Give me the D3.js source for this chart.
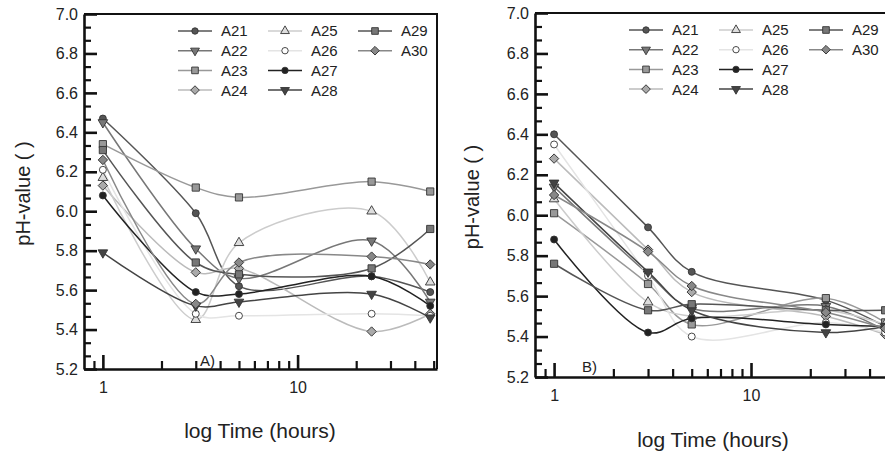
<!DOCTYPE html>
<html>
<head>
<meta charset="utf-8">
<script src="https://cdn.jsdelivr.net/npm/d3@7"></script>
<style>
  body { margin: 0; background: #fff; }
  svg { display: block; font-family: "Liberation Sans", Arial, sans-serif; }
</style>
</head>
<body>
<svg id="chart" width="885" height="454"></svg>
<script>
/* globals d3 */

// sampling times (hours)
var times = [1, 3, 5, 24, 48];
var seriesNames = ["A21", "A22", "A23", "A24", "A25", "A26", "A27", "A28", "A29", "A30"];

// pH, one row per series
var phPanelA = [
    [6.47, 5.99, 5.62, 5.67, 5.59],
    [6.45, 5.81, 5.66, 5.85, 5.54],
    [6.34, 6.12, 6.07, 6.15, 6.10],
    [6.13, 5.69, 5.71, 5.39, 5.48],
    [6.17, 5.45, 5.84, 6.00, 5.64],
    [6.21, 5.48, 5.47, 5.48, 5.47],
    [6.08, 5.59, 5.58, 5.67, 5.52],
    [5.79, 5.52, 5.54, 5.58, 5.46],
    [6.31, 5.74, 5.68, 5.71, 5.91],
    [6.26, 5.53, 5.74, 5.77, 5.73]
];

// pH
var phPanelB = [
    [6.40, 5.94, 5.72, 5.58, 5.45],
    [6.14, 5.71, 5.54, 5.55, 5.43],
    [6.01, 5.66, 5.46, 5.59, 5.47],
    [6.28, 5.83, 5.62, 5.50, 5.41],
    [6.08, 5.57, 5.50, 5.53, 5.46],
    [6.35, 5.70, 5.40, 5.47, 5.42],
    [5.88, 5.42, 5.49, 5.46, 5.45],
    [6.16, 5.72, 5.53, 5.42, 5.45],
    [5.76, 5.53, 5.56, 5.53, 5.53],
    [6.10, 5.82, 5.65, 5.52, 5.44]
];

var yMajorTicks = [5.2, 5.4, 5.6, 5.8, 6.0, 6.2, 6.4, 6.6, 6.8, 7.0];
var xMajorTicks = [1, 10];
var xMinorTicks = [0.9, 2, 3, 4, 5, 6, 7, 8, 9, 20, 30, 40, 50];
var panelLetters = ["A)", "B)"];

// styles (kept apart from the data)
var seriesFill = ["#555", "#777", "#999", "#aaa", "#ddd", "#fff", "#222", "#444", "#777", "#888"];
var seriesLine = ["#555", "#777", "#999", "#bbb", "#ccc", "#e4e4e4", "#222", "#444", "#555", "#888"];
var seriesShape = ["circle", "down", "square", "diamond", "up", "circle", "circle", "down", "square", "diamond"];

var svg = d3.select("#chart");

var yMinorTicks = [];
for (var k = 0; k < 27; k++) {
    if (k % 3 !== 0) { yMinorTicks.push(5.2 + k * 0.2 / 3); }
}

// marker path + rotation for one shape
function markerPath(shape, s) {
    if (shape === "circle") { return d3.symbol(d3.symbolCircle, 38 * s)(); }
    if (shape === "square") { return d3.symbol(d3.symbolSquare, 52 * s)(); }
    if (shape === "diamond") { return d3.symbol(d3.symbolSquare, 44 * s)(); }
    return d3.symbol(d3.symbolTriangle, 40 * s)();
}
function markerRot(shape) {
    if (shape === "diamond") { return 45; }
    if (shape === "down") { return 180; }
    return 0;
}

function drawPanel(cfg, values, letter) {
    var x = d3.scaleLog().domain([0.8, 52]).range([cfg.left, cfg.right]);
    var y = d3.scaleLinear().domain([5.2, 7.0]).range([cfg.bottom, cfg.top]);
    var g = svg.append("g");

    // top and right frame
    g.append("path")
        .attr("d", "M" + cfg.left + "," + cfg.top + "H" + cfg.right + "V" + cfg.bottom)
        .attr("fill", "none")
        .attr("stroke", "#111")
        .attr("stroke-width", 2);

    // y axis, ticks inward
    var ya = g.append("g")
        .attr("transform", "translate(" + cfg.left + ",0)")
        .call(d3.axisLeft(y).tickValues(yMajorTicks).tickSize(-13).tickSizeOuter(0)
              .tickPadding(6).tickFormat(d3.format(".1f")));
    g.append("g")
        .attr("transform", "translate(" + cfg.left + ",0)")
        .call(d3.axisLeft(y).tickValues(yMinorTicks).tickSize(-7).tickSizeOuter(0).tickFormat(""))
        .call(function(s) { s.select(".domain").remove(); })
        .selectAll("line").attr("stroke-width", 2.2).attr("stroke", "#111");

    var xa = g.append("g")
        .attr("transform", "translate(0," + cfg.bottom + ")")
        .call(d3.axisBottom(x).tickValues(xMajorTicks).tickSize(-14).tickSizeOuter(0)
              .tickPadding(13).tickFormat(d3.format("d")));
    g.append("g")
        .attr("transform", "translate(0," + cfg.bottom + ")")
        .call(d3.axisBottom(x).tickValues(xMinorTicks).tickSize(-8).tickSizeOuter(0).tickFormat(""))
        .call(function(s) { s.select(".domain").remove(); })
        .selectAll("line").attr("stroke-width", 2.2).attr("stroke", "#111");

    [ya, xa].forEach(function(a) {
        a.select(".domain").attr("stroke", "#111").attr("stroke-width", 2.6);
        a.selectAll(".tick line").attr("stroke", "#111").attr("stroke-width", 2.6);
        a.selectAll("text").attr("font-size", 16).attr("fill", "#222")
            .attr("font-family", "'Liberation Sans', Arial, sans-serif");
    });

    // axis titles
    g.append("text")
        .attr("transform", "translate(" + cfg.ylabX + "," + ((cfg.top + cfg.bottom) / 2 + 2) + ") rotate(-90)")
        .attr("text-anchor", "middle")
        .attr("dominant-baseline", "central")
        .attr("font-size", 20)
        .attr("fill", "#222")
        .text("pH-value ( )");
    g.append("text")
        .attr("x", cfg.xlabX)
        .attr("y", cfg.xlabY)
        .attr("text-anchor", "middle")
        .attr("font-size", 21)
        .attr("fill", "#222")
        .text("log Time (hours)");
    g.append("text")
        .attr("x", cfg.letterX)
        .attr("y", cfg.letterY)
        .attr("font-size", 15)
        .attr("fill", "#222")
        .text(letter);

    // curves
    var line = d3.line()
        .x(function(d) { return x(d[0]); })
        .y(function(d) { return y(d[1]); })
        .curve(d3.curveCatmullRom.alpha(0.5));

    var rows = values.map(function(v) {
        return v.map(function(p, j) { return [times[j], p]; });
    });

    g.selectAll(".curve")
        .data(rows)
        .enter().append("path")
        .attr("class", "curve")
        .attr("d", line)
        .attr("fill", "none")
        .attr("stroke", function(d, i) { return seriesLine[i]; })
        .attr("stroke-width", 1.5);

    rows.forEach(function(r, i) {
        g.selectAll(".m" + i)
            .data(r)
            .enter().append("path")
            .attr("class", "m" + i)
            .attr("d", markerPath(seriesShape[i], 1))
            .attr("transform", function(d) {
                return "translate(" + x(d[0]) + "," + y(d[1]) + ") rotate(" + markerRot(seriesShape[i]) + ")";
            })
            .attr("fill", seriesFill[i])
            .attr("stroke", "#333")
            .attr("stroke-width", 0.9);
    });

    // legend, 4 rows per column
    seriesNames.forEach(function(name, i) {
        var col = Math.floor(i / 4), row = i % 4;
        var lx = cfg.left + 94 + col * 90;
        var ly = cfg.top + 17 + row * 19.7;
        var lg = g.append("g").attr("transform", "translate(" + lx + "," + ly + ")");
        lg.append("line")
            .attr("x1", 0).attr("x2", 34)
            .attr("stroke", seriesLine[i])
            .attr("stroke-width", 1.5);
        lg.append("path")
            .attr("d", markerPath(seriesShape[i], 0.85))
            .attr("transform", "translate(17,0) rotate(" + markerRot(seriesShape[i]) + ")")
            .attr("fill", seriesFill[i])
            .attr("stroke", "#333")
            .attr("stroke-width", 0.9);
        lg.append("text")
            .attr("x", 43)
            .attr("dy", "0.36em")
            .attr("font-size", 15)
            .attr("fill", "#222")
            .text(name);
    });
}

drawPanel({left: 84, right: 437, top: 14, bottom: 369, ylabX: 23, xlabX: 260, xlabY: 438,
           letterX: 200, letterY: 366}, phPanelA, panelLetters[0]);
drawPanel({left: 535, right: 892, top: 13, bottom: 377, ylabX: 472, xlabX: 713, xlabY: 447,
           letterX: 582, letterY: 372}, phPanelB, panelLetters[1]);
</script>
</body>
</html>
